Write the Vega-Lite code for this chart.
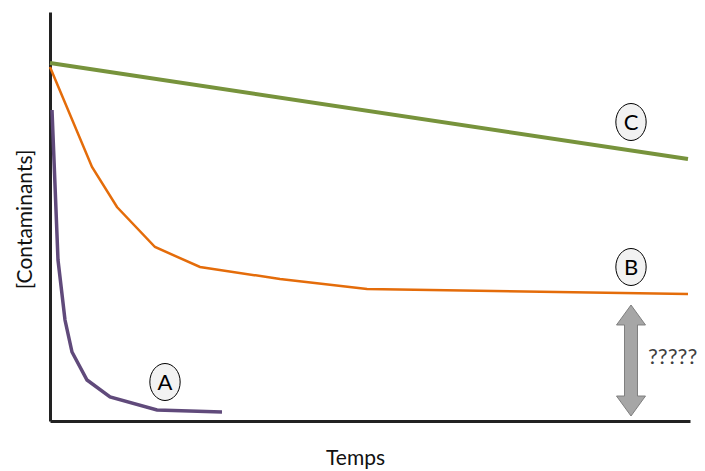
{
  "$schema": "https://vega.github.io/schema/vega-lite/v6.json",
  "width": 640,
  "height": 409,
  "autosize": {"type": "none"},
  "padding": {"left": 50, "top": 12, "right": 15, "bottom": 50},
  "background": "white",
  "config": {"view": {"stroke": null}},
  "datasets": {
    "curves": [
      {"serie": "C", "t": 0, "c": 358},
      {"serie": "C", "t": 638, "c": 262},
      {"serie": "B", "t": 0, "c": 354},
      {"serie": "B", "t": 42, "c": 254},
      {"serie": "B", "t": 67, "c": 214},
      {"serie": "B", "t": 105, "c": 174},
      {"serie": "B", "t": 150, "c": 154},
      {"serie": "B", "t": 230, "c": 142},
      {"serie": "B", "t": 317, "c": 132},
      {"serie": "B", "t": 638, "c": 127},
      {"serie": "A", "t": 2, "c": 311},
      {"serie": "A", "t": 8, "c": 161},
      {"serie": "A", "t": 15, "c": 101},
      {"serie": "A", "t": 22, "c": 69},
      {"serie": "A", "t": 37, "c": 41},
      {"serie": "A", "t": 60, "c": 24},
      {"serie": "A", "t": 107, "c": 11},
      {"serie": "A", "t": 172, "c": 9}
    ],
    "labels": [
      {"label": "A", "t": 115, "c": 39},
      {"label": "B", "t": 581, "c": 154},
      {"label": "C", "t": 581, "c": 299}
    ],
    "arrow": [{"t": 581, "c": 60.5}],
    "question": [{"text": "?????", "t": 598, "c": 64}]
  },
  "layer": [
    {
      "data": {"name": "curves"},
      "transform": [{"filter": "datum.serie === 'C'"}],
      "mark": {"type": "line", "color": "#77933C", "strokeWidth": 4},
      "encoding": {
        "x": {"field": "t", "type": "quantitative", "scale": {"domain": [0, 640], "nice": false, "zero": false},
          "axis": {"title": "Temps", "domainColor": "#222222", "domainWidth": 3, "ticks": false, "labels": false, "grid": false,
            "titleFont": "Lato", "titleFontSize": 21, "titleFontWeight": "normal", "titleColor": "#111111",
            "titleX": 305, "titleY": 43, "titleAlign": "center", "titleBaseline": "alphabetic"}},
        "y": {"field": "c", "type": "quantitative", "scale": {"domain": [0, 409], "nice": false, "zero": false},
          "axis": {"title": "[Contaminants]", "domainColor": "#222222", "domainWidth": 3, "ticks": false, "labels": false, "grid": false,
            "titleFont": "Lato", "titleFontSize": 21, "titleFontWeight": "normal", "titleColor": "#111111",
            "titleX": -25, "titleY": 207, "titleAngle": -90, "titleAlign": "center", "titleBaseline": "middle"}}
      }
    },
    {
      "data": {"name": "curves"},
      "transform": [{"filter": "datum.serie === 'B'"}],
      "mark": {"type": "line", "color": "#E46C0A", "strokeWidth": 2.5},
      "encoding": {
        "x": {"field": "t", "type": "quantitative"},
        "y": {"field": "c", "type": "quantitative"}
      }
    },
    {
      "data": {"name": "curves"},
      "transform": [{"filter": "datum.serie === 'A'"}],
      "mark": {"type": "line", "color": "#604A7B", "strokeWidth": 3.5},
      "encoding": {
        "x": {"field": "t", "type": "quantitative"},
        "y": {"field": "c", "type": "quantitative"}
      }
    },
    {
      "data": {"name": "labels"},
      "mark": {"type": "point", "shape": "M0,-1A0.82,1 0 1,1 0,1A0.82,1 0 1,1 0,-1Z", "size": 1369, "filled": true, "fill": "#F2F2F2", "stroke": "#000000", "strokeWidth": 1, "opacity": 1, "fillOpacity": 1},
      "encoding": {
        "x": {"field": "t", "type": "quantitative"},
        "y": {"field": "c", "type": "quantitative"}
      }
    },
    {
      "data": {"name": "labels"},
      "mark": {"type": "text", "font": "Lato", "fontSize": 22, "color": "#000000", "align": "center", "baseline": "middle", "dy": 1},
      "encoding": {
        "x": {"field": "t", "type": "quantitative"},
        "y": {"field": "c", "type": "quantitative"},
        "text": {"field": "label"}
      }
    },
    {
      "data": {"name": "arrow"},
      "mark": {"type": "point", "shape": "M0,-1L0.261,-0.64L0.117,-0.64L0.117,0.64L0.261,0.64L0,1L-0.261,0.64L-0.117,0.64L-0.117,-0.64L-0.261,-0.64Z", "size": 12321, "filled": true, "fill": "#A6A6A6", "stroke": "#7F7F7F", "strokeWidth": 1, "opacity": 1},
      "encoding": {
        "x": {"field": "t", "type": "quantitative"},
        "y": {"field": "c", "type": "quantitative"}
      }
    },
    {
      "data": {"name": "question"},
      "mark": {"type": "text", "font": "Lato", "fontSize": 22, "color": "#404040", "align": "left", "baseline": "middle"},
      "encoding": {
        "x": {"field": "t", "type": "quantitative"},
        "y": {"field": "c", "type": "quantitative"},
        "text": {"field": "text"}
      }
    }
  ]
}
